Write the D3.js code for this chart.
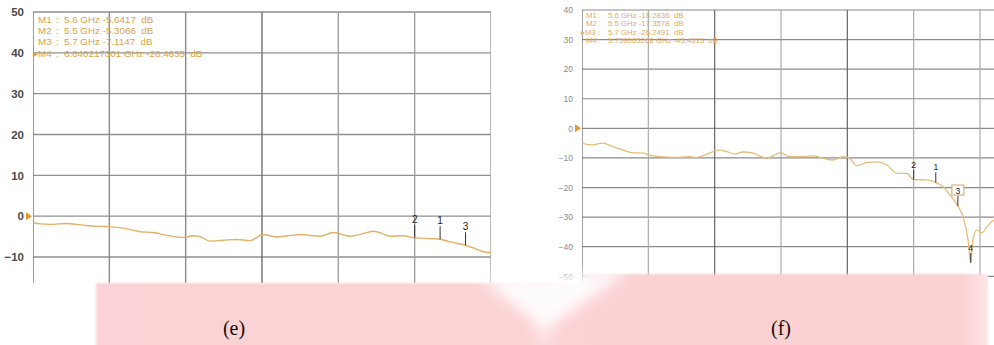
<!DOCTYPE html>
<html>
<head>
<meta charset="utf-8">
<script src="https://cdn.jsdelivr.net/npm/d3@7"></script>
<style>
  body { margin: 0; background: #fff; }
  svg { display: block; }
</style>
</head>
<body>
<svg id="chart" width="994" height="345"></svg>
<script>
// ---- Panel (e): S11 trace, frequency in GHz, magnitude in dB ----
const freqE = [4.000, 4.030, 4.067, 4.100, 4.134, 4.170, 4.212, 4.260, 4.299, 4.340, 4.370, 4.421, 4.472,
  4.527, 4.590, 4.629, 4.656, 4.696, 4.730, 4.763, 4.802, 4.853, 4.904, 4.959, 5.000, 5.050, 5.090,
  5.128, 5.179, 5.246, 5.290, 5.336, 5.370, 5.403, 5.454, 5.500, 5.561, 5.600, 5.639, 5.700, 5.740, 5.769, 5.800];
const dbE = [-1.6, -1.9, -2.0, -1.9, -1.8, -2.0, -2.3, -2.5, -2.6, -2.8, -3.1, -3.8, -4.0,
  -4.7, -5.2, -4.8, -5.0, -6.1, -6.0, -5.8, -5.7, -6.0, -4.5, -5.1, -4.8, -4.5, -4.7,
  -4.9, -4.0, -4.9, -4.4, -3.7, -4.2, -4.9, -4.8, -5.3066, -5.5, -5.6417, -6.3, -7.1147, -8.0, -8.7, -8.9];
const markerFreqE = [5.6, 5.5, 5.7, 6.840217301];
const markerDbE = [-5.6417, -5.3066, -7.1147, -28.4635];
const dbTicksE = [50, 40, 30, 20, 10, 0, -10];
const dbGridE = [50, 40, 30, 20, 10, 0, -10, -20];

// ---- Panel (f) ----
const freqF = [4.000, 4.036, 4.095, 4.127, 4.172, 4.226, 4.276, 4.321, 4.412, 4.488, 4.520, 4.565,
  4.624, 4.656, 4.692, 4.728, 4.773, 4.837, 4.864, 4.896, 4.941, 4.986, 5.045, 5.090, 5.135,
  5.180, 5.203, 5.244, 5.289, 5.334, 5.379, 5.425, 5.470, 5.500, 5.560, 5.600, 5.633, 5.664,
  5.700, 5.723, 5.746, 5.758065268, 5.768, 5.786, 5.809, 5.832, 5.863];
const dbF = [-5.0, -5.6, -5.0, -5.8, -7.0, -8.2, -8.4, -9.3, -9.8, -9.6, -9.8, -8.7,
  -7.3, -7.9, -8.7, -8.0, -8.4, -10.1, -9.3, -8.2, -9.6, -9.6, -9.3, -10.1, -10.7,
  -9.6, -9.8, -12.6, -11.5, -11.3, -12.4, -15.2, -15.2, -17.3578, -17.4, -18.2836, -19.7, -22.5,
  -26.2491, -29.8, -37.7, -45.4515, -37.7, -34.3, -35.3, -33.2, -31.0];
const markerFreqF = [5.6, 5.5, 5.7, 5.758065268];
const markerDbF = [-18.2836, -17.3578, -26.2491, -45.4515];
const dbTicksF = [40, 30, 20, 10, 0, -10, -20, -30, -40, -50];

const freqTicks = [4.0, 4.3, 4.6, 4.9, 5.2, 5.5, 5.8];
const markerNames = ["M1", "M2", "M3", "M4"];
const panelLabels = ["(e)", "(f)"];

const svg = d3.select("#chart");
const defs = svg.append("defs");

function drawPanel(cfg) {
  const x = d3.scaleLinear().domain([4.0, 5.8]).range(cfg.xRange);
  const y = d3.scaleLinear().domain(cfg.yDomain).range(cfg.yRange);
  const g = svg.append("g");

  defs.append("clipPath").attr("id", cfg.id + "-clip")
    .append("rect")
    .attr("x", cfg.xRange[0]).attr("y", cfg.yRange[0] - 1)
    .attr("width", cfg.plotRight - cfg.xRange[0])
    .attr("height", cfg.plotBottom - cfg.yRange[0] + 1);

  const grid = g.append("g").attr("clip-path", `url(#${cfg.id}-clip)`);

  // horizontal grid
  grid.selectAll("line.h").data(cfg.yGrid).join("line")
    .attr("x1", cfg.xRange[0]).attr("x2", cfg.plotRight)
    .attr("y1", d => y(d)).attr("y2", d => y(d))
    .attr("stroke", cfg.hGrid).attr("stroke-width", cfg.gw);

  // vertical grid
  grid.selectAll("line.v").data(freqTicks).join("line")
    .attr("x1", d => x(d)).attr("x2", d => x(d))
    .attr("y1", cfg.yRange[0]).attr("y2", cfg.plotBottom)
    .attr("stroke", (d, i) => cfg.vGrid[i % cfg.vGrid.length]).attr("stroke-width", cfg.gw);

  // y tick labels
  const axis = d3.axisLeft(y).tickValues(cfg.yTicks).tickSize(0).tickPadding(cfg.pad)
    .tickFormat(d3.format("d"));
  const ag = g.append("g").attr("transform", `translate(${cfg.xRange[0]},0)`).call(axis);
  ag.select(".domain").remove();
  ag.selectAll("text")
    .attr("font-family", "Liberation Sans, Arial, sans-serif")
    .attr("font-size", cfg.tickFont).attr("fill", cfg.tickColor)
    .attr("font-weight", cfg.tickWeight);

  // reference level triangle at 0 dB
  const r0 = y(0), xl = cfg.xRange[0];
  g.append("path")
    .attr("d", `M${xl - 7},${r0 - 4}L${xl - 1},${r0}L${xl - 7},${r0 + 4}Z`)
    .attr("fill", "#e29a35");

  // trace
  const line = d3.line().x(d => x(d[0])).y(d => y(d[1])).curve(d3.curveMonotoneX);
  grid.append("path")
    .datum(cfg.freq.map((f, i) => [f, cfg.db[i]]))
    .attr("d", line)
    .attr("fill", "none").attr("stroke", cfg.traceColor)
    .attr("stroke-width", cfg.traceWidth).attr("stroke-linejoin", "round");

  // marker ticks with numbers
  const mk = g.append("g");
  const fMax = x.invert(cfg.plotRight);
  cfg.mFreq.forEach((f, i) => {
    if (f > fMax) return;
    const px = x(f), py = y(cfg.mDb[i]);
    mk.append("line").attr("x1", px).attr("x2", px)
      .attr("y1", py).attr("y2", py - cfg.tickLen)
      .attr("stroke", "#333").attr("stroke-width", 1);
    const ty = py - cfg.tickLen - 2;
    if (i === cfg.activeIdx && cfg.boxActive) {
      mk.append("rect").attr("x", px - 6).attr("y", ty - 9).attr("width", 12).attr("height", 10)
        .attr("fill", "#fff").attr("stroke", "#d2a060").attr("stroke-width", 1);
    }
    mk.append("text").attr("x", px).attr("y", ty)
      .attr("text-anchor", "middle")
      .attr("font-family", "Liberation Sans, Arial, sans-serif")
      .attr("font-size", cfg.mkFont).attr("fill", "#222")
      .text(String(i + 1));
  });

  // marker readout
  const rd = g.append("g")
    .attr("font-family", "Liberation Sans, Arial, sans-serif")
    .attr("font-size", cfg.rdFont).attr("fill", cfg.rdColor);
  cfg.mFreq.forEach((f, i) => {
    const by = cfg.rdY + i * cfg.rdStep;
    const active = i === cfg.activeIdx;
    rd.append("text").attr("x", active ? cfg.rdX - 5 : cfg.rdX).attr("y", by)
      .text((active ? "\u25B8" : "") + markerNames[i]);
    rd.append("text").attr("x", cfg.rdX + cfg.colonDx).attr("y", by).text(":");
    rd.append("text").attr("x", cfg.rdX + cfg.valDx).attr("y", by)
      .attr("xml:space", "preserve").style("white-space", "pre")
      .text(`${f} GHz ${cfg.mDb[i].toFixed(4)}  dB`);
  });
}

drawPanel({
  id: "pe", xRange: [33, 491], plotRight: 491, plotBottom: 283,
  yDomain: [50, -10], yRange: [12, 257], yTicks: dbTicksE, yGrid: dbGridE,
  hGrid: "#8f8f8f", vGrid: ["#707070", "#8a8a8a", "#8a8a8a", "#707070", "#a0a0a0", "#a0a0a0", "#a0a0a0"], gw: 1.4,
  pad: 9, tickFont: 11.5, tickColor: "#4a4a4a", tickWeight: 600,
  freq: freqE, db: dbE, traceColor: "#e2b165", traceWidth: 1.4,
  mFreq: markerFreqE, mDb: markerDbE, tickLen: 13, mkFont: 10, activeIdx: 3, boxActive: false,
  rdX: 38, rdY: 22.5, rdStep: 11.4, rdFont: 9.8, rdColor: "#d9a24e", colonDx: 18, valDx: 26
});

drawPanel({
  id: "pf", xRange: [582, 980], plotRight: 994, plotBottom: 290,
  yDomain: [40, -40], yRange: [10, 246.7], yTicks: dbTicksF, yGrid: dbTicksF,
  hGrid: "#8a8a8a", vGrid: ["#666", "#aaa", "#666", "#aaa", "#666", "#aaa", "#aaa"], gw: 1.2,
  pad: 9, tickFont: 8.5, tickColor: "#8a8a8a", tickWeight: 400,
  freq: freqF, db: dbF, traceColor: "#e6bb78", traceWidth: 1.3,
  mFreq: markerFreqF, mDb: markerDbF, tickLen: 10, mkFont: 8.5, activeIdx: 2, boxActive: true,
  rdX: 586, rdY: 18, rdStep: 8.3, rdFont: 7.8, rdColor: "#e2ab62", colonDx: 12, valDx: 22
});

// ---- caption band ----
const blurSoft = defs.append("filter").attr("id", "soft").attr("x", "-10%").attr("y", "-50%")
  .attr("width", "120%").attr("height", "200%");
blurSoft.append("feGaussianBlur").attr("stdDeviation", 1.2);
const blurWide = defs.append("filter").attr("id", "wide").attr("x", "-50%").attr("y", "-50%")
  .attr("width", "200%").attr("height", "200%");
blurWide.append("feGaussianBlur").attr("stdDeviation", 7);

const grad = defs.append("linearGradient").attr("id", "band").attr("x1", 0).attr("x2", 1);
grad.append("stop").attr("offset", "0%").attr("stop-color", "#fbd3d6");
grad.append("stop").attr("offset", "50%").attr("stop-color", "#fcd3d4");
grad.append("stop").attr("offset", "97%").attr("stop-color", "#fbd0d3");
grad.append("stop").attr("offset", "100%").attr("stop-color", "#fde6e6");

const band = svg.append("g");
band.append("path")
  .attr("d", "M96,283H585V274H988V350H96Z")
  .attr("fill", "url(#band)").attr("filter", "url(#soft)");
band.append("path")
  .attr("d", "M482,279L630,270L545,330Z")
  .attr("fill", "#fff").attr("opacity", 0.92).attr("filter", "url(#wide)");
band.append("rect").attr("x", 535).attr("y", 318).attr("width", 18).attr("height", 30)
  .attr("fill", "#fff").attr("opacity", 0.3).attr("filter", "url(#wide)");

svg.append("g").selectAll("text").data(panelLabels).join("text")
  .attr("x", (d, i) => [234, 781][i]).attr("y", 335)
  .attr("text-anchor", "middle")
  .attr("font-family", "Liberation Serif, Times New Roman, serif")
  .attr("font-size", 20).attr("fill", "#111")
  .text(d => d);
</script>
</body>
</html>
